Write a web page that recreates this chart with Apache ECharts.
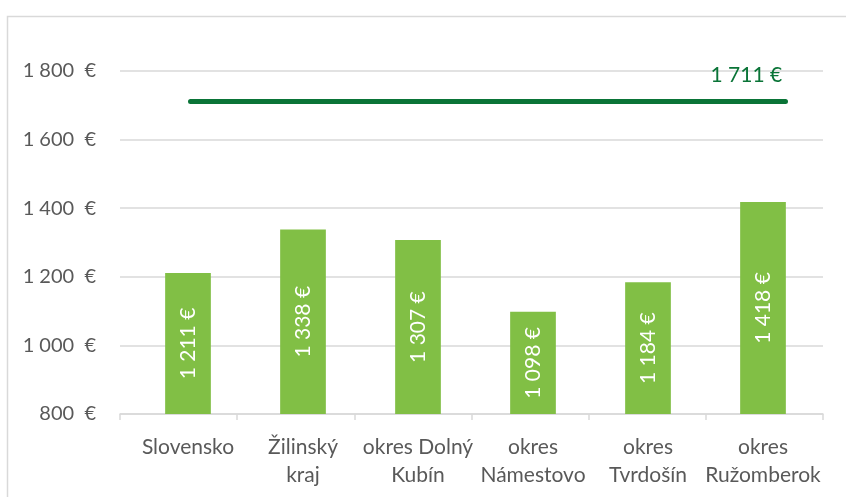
<!DOCTYPE html>
<html>
<head>
<meta charset="utf-8">
<script src="https://cdn.jsdelivr.net/npm/echarts@6/dist/echarts.min.js"></script>
<style>html,body{margin:0;padding:0;background:#fff}#c{width:846px;height:497px}</style>
</head>
<body>
<div id="c"></div>
<script>
var categories = ['Slovensko', 'Žilinský\nkraj', 'okres Dolný\nKubín', 'okres\nNámestovo', 'okres\nTvrdošín', 'okres\nRužomberok'];
var wages = [1211, 1338, 1307, 1098, 1184, 1418];
var targetLine = [1711, 1711, 1711, 1711, 1711, 1711];
var yTicks = { min: 800, max: 1800, interval: 200 };

function fmt(v) {
  var s = String(Math.round(v));
  return s.replace(/\B(?=(\d{3})+(?!\d))/g, ' ');
}

var chart = echarts.init(document.getElementById('c'), null, { renderer: 'canvas' });
var FONT = 'Lato';
var GRAY = '#d9d9d9';
function yAxisCfg(show) {
  return {
    type: 'value', gridIndex: 0,
    min: yTicks.min, max: yTicks.max, interval: yTicks.interval,
    axisLine: { show: false }, axisTick: { show: false },
    splitLine: { show: show, lineStyle: { color: GRAY, width: 1.5 } },
    axisLabel: {
      show: show, color: '#595959', fontFamily: FONT, fontSize: 20, margin: 24,
      formatter: function (v) { return fmt(v) + '  €'; }
    }
  };
}
var y0 = yAxisCfg(true);
var y1 = yAxisCfg(false); y1.gridIndex = 1;
var y2 = yAxisCfg(false); y2.gridIndex = 2;

chart.setOption({
  animation: false,
  backgroundColor: '#ffffff',
  graphic: [{
    type: 'rect', left: 5, top: 14, silent: true,
    shape: { width: 900, height: 600 },
    style: { fill: 'none', stroke: GRAY, lineWidth: 1.5 }
  }],
  grid: [
    { left: 120, right: 23, top: 71, bottom: 83 },
    { left: 130.5, right: 25.5, top: 71, bottom: 83 },
    { left: 190.5, right: 60.5, top: 71, bottom: 83 }
  ],
  xAxis: [{
    type: 'category', gridIndex: 0,
    data: categories,
    axisLine: { lineStyle: { color: GRAY, width: 1.5 } },
    axisTick: { show: true, length: 6, lineStyle: { color: GRAY, width: 1.5 } },
    axisLabel: { show: false }
  }, {
    type: 'category', gridIndex: 1,
    data: categories,
    axisLine: { show: false },
    axisTick: { show: false },
    axisLabel: { color: '#595959', fontFamily: FONT, fontSize: 21, lineHeight: 28, margin: 19, interval: 0 }
  }, {
    type: 'category', gridIndex: 2,
    data: categories, boundaryGap: false, show: false
  }],
  yAxis: [y0, y1, y2],
  series: [{
    type: 'bar',
    xAxisIndex: 1, yAxisIndex: 1,
    data: wages,
    barWidth: 45.7,
    itemStyle: { color: '#81bf45' },
    label: {
      show: true, position: 'inside', rotate: 90,
      color: '#ffffff', fontFamily: FONT, fontSize: 21,
      formatter: function (p) { return fmt(p.value) + ' €'; }
    }
  }, {
    type: 'line',
    xAxisIndex: 2, yAxisIndex: 2,
    data: targetLine,
    symbol: 'none',
    lineStyle: { color: '#0a7437', width: 5, cap: 'round' },
    endLabel: {
      show: true, color: '#0a7437', fontFamily: FONT, fontSize: 21,
      formatter: function (p) { return fmt(p.value) + ' €'; },
      offset: [-83, -26]
    }
  }]
});
</script>
</body>
</html>
